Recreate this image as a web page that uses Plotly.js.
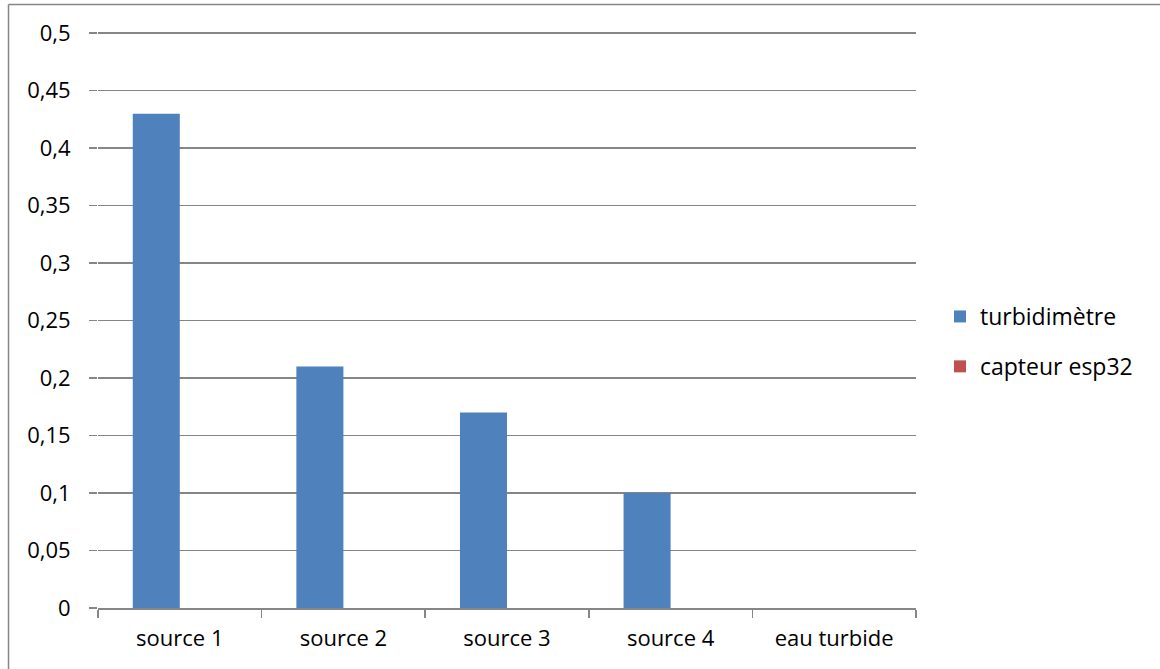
<!DOCTYPE html>
<html>
<head>
<meta charset="utf-8">
<script src="https://cdn.plot.ly/plotly-3.0.1.min.js"></script>
<style>
html,body{margin:0;padding:0;background:#fff;}
#chart{width:1160px;height:669px;}
</style>
</head>
<body>
<div id="chart"></div>
<script>
const categories = ["source 1", "source 2", "source 3", "source 4", "eau turbide"];
const turbidimetre = [0.43, 0.21, 0.17, 0.1, 0];
const capteurEsp32 = [0, 0, 0, 0, 0];
const yTickVals = [0, 0.05, 0.1, 0.15, 0.2, 0.25, 0.3, 0.35, 0.4, 0.45, 0.5];
const yTickText = ["0", "0,05", "0,1", "0,15", "0,2", "0,25", "0,3", "0,35", "0,4", "0,45", "0,5"];

const FONT = "Open Sans, sans-serif";
const W = 1160, H = 669;
const L = 98, R = 244, T = 32, B = 61;
const pw = W - L - R, ph = H - T - B;
const px = v => (v - L) / pw;
const py = v => (H - B - v) / ph;

const data = [
  {type: "bar", name: "turbidimètre", x: categories, y: turbidimetre,
   marker: {color: "#4F81BD"}, legendgroup: "a"},
  {type: "bar", name: "capteur esp32", x: categories, y: capteurEsp32,
   marker: {color: "#C0504D"}, legendgroup: "b"}
];

const layout = {
  width: W, height: H,
  margin: {l: L, r: R, t: T, b: B, pad: 0},
  paper_bgcolor: "#fff", plot_bgcolor: "#fff",
  font: {family: FONT, size: 22, color: "#000"},
  barmode: "group",
  bargap: 0.425,
  bargroupgap: 0,
  showlegend: true,
  legend: {x: px(940), xanchor: "left", y: py(295), yanchor: "top",
           font: {family: FONT, size: 23, color: "#000"},
           traceorder: "grouped", tracegroupgap: 17,
           bgcolor: "rgba(0,0,0,0)", borderwidth: 0},
  xaxis: {
    type: "category",
    tickson: "boundaries",
    ticks: "outside", ticklen: 8, tickwidth: 1.5, tickcolor: "#868686",
    ticklabelstandoff: 10,
    showline: true, linecolor: "#868686", linewidth: 1.5,
    showgrid: false, zeroline: false,
    tickfont: {family: FONT, size: 22, color: "#000"},
    fixedrange: true
  },
  yaxis: {
    range: [0, 0.501],
    tickvals: yTickVals, ticktext: yTickText,
    ticks: "outside", ticklen: 8, tickwidth: 1.5, tickcolor: "#868686",
    ticklabelstandoff: 14,
    showline: false, showgrid: true, gridcolor: "#868686", gridwidth: 1.5,
    zeroline: false,
    tickfont: {family: FONT, size: 22, color: "#000"},
    fixedrange: true
  },
  shapes: [
    {type: "line", xref: "paper", yref: "paper",
     x0: px(8.5), x1: px(1160), y0: py(4.5), y1: py(4.5),
     line: {color: "#868686", width: 1.5}},
    {type: "line", xref: "paper", yref: "paper",
     x0: px(8.5), x1: px(8.5), y0: py(4.5), y1: py(669),
     line: {color: "#868686", width: 1.5}}
  ]
};

Plotly.newPlot("chart", data, layout, {displayModeBar: false, staticPlot: true});
</script>
</body>
</html>
